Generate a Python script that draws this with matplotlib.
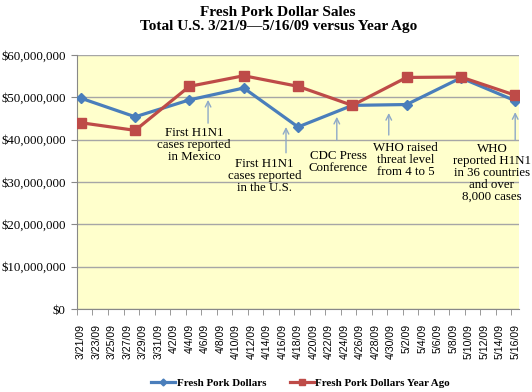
import matplotlib
matplotlib.use("Agg")
import matplotlib.pyplot as plt
from matplotlib.ticker import FuncFormatter, FixedLocator
import numpy as np

# Data
tick_labels = ["3/21/09", "3/23/09", "3/25/09", "3/27/09", "3/29/09", "3/31/09",
               "4/2/09", "4/4/09", "4/6/09", "4/8/09", "4/10/09", "4/12/09",
               "4/14/09", "4/16/09", "4/18/09", "4/20/09", "4/22/09", "4/24/09",
               "4/26/09", "4/28/09", "4/30/09", "5/2/09", "5/4/09", "5/6/09",
               "5/8/09", "5/10/09", "5/12/09", "5/14/09", "5/16/09"]
point_days = [0, 7, 14, 21, 28, 35, 42, 49, 56]  # days since 3/21/09
fresh_pork = [49.8e6, 45.4e6, 49.4e6, 52.2e6, 43.0e6, 48.1e6, 48.3e6, 54.6e6, 49.2e6]
fresh_pork_ya = [44.0e6, 42.2e6, 52.6e6, 55.1e6, 52.6e6, 48.1e6, 54.7e6, 54.8e6, 50.5e6]

annotations = [
    ("First H1N1\ncases reported\nin Mexico", 16.4, 49.4e6, 43.9e6, 14.6, 43.0e6),
    ("First H1N1\ncases reported\nin the U.S.", 26.45, 43.0e6, 36.9e6, 23.7, 35.7e6),
    ("CDC Press\nConference", 33.0, 45.4e6, 39.9e6, 33.2, 37.6e6),
    ("WHO raised\nthreat level\nfrom 4 to 5", 39.7, 46.3e6, 41.1e6, 41.9, 39.5e6),
    ("WHO\nreported H1N1\nin 36 countries\nand over\n8,000 cases", 56.0, 46.5e6, 39.9e6, 53.0, 39.2e6),
]

serif = ["Liberation Serif", "DejaVu Serif"]
sans = ["Liberation Sans", "DejaVu Sans"]

fig = plt.figure(figsize=(5.32, 3.92), dpi=100)
ax = fig.add_axes([0.1447, 0.2117, 0.831, 0.648])
ax.set_facecolor("#FFFFCC")

blue = "#4A7EBB"
red = "#BE4B48"
ax.plot(point_days, fresh_pork, color=blue, lw=2.3, marker="D", ms=5,
        label="Fresh Pork Dollars", zorder=3)
ax.plot(point_days, fresh_pork_ya, color=red, lw=2.3, marker="s", ms=6.5,
        label="Fresh Pork Dollars Year Ago", zorder=3)

ax.set_xlim(-0.5, 56.5)
ax.set_ylim(0, 60e6)
ax.set_yticks(np.arange(0, 60e6 + 1, 10e6))
ax.yaxis.set_major_formatter(FuncFormatter(lambda v, p: "${:,.0f}".format(v)))
for lbl in ax.get_yticklabels():
    lbl.set_fontfamily(serif)
    lbl.set_fontsize(9.3)
ax.grid(axis="y", color="#A6A6A6", lw=1.0)
ax.set_axisbelow(True)

label_pos = list(range(0, 57, 2))
ax.xaxis.set_major_locator(FixedLocator(label_pos))
ax.set_xticklabels(tick_labels, rotation=90, fontsize=7.6, family=sans)
ax.tick_params(axis="x", which="major", length=0, pad=11)
ax.xaxis.set_minor_locator(FixedLocator(list(np.arange(-0.5, 57, 2))))
ax.tick_params(axis="x", which="minor", length=4, color="#888888")
ax.tick_params(axis="y", length=4, color="#888888", pad=4)

for s in ["top", "right"]:
    ax.spines[s].set_visible(False)
for s in ["left", "bottom"]:
    ax.spines[s].set_color("#888888")

arrow_color = "#8EA9C8"
for text, ax_x, tip_y, tail_y, tx, ty in annotations:
    ax.annotate("", xy=(ax_x, tip_y), xytext=(ax_x, tail_y),
                arrowprops=dict(arrowstyle="->", color=arrow_color, lw=1.0,
                                shrinkA=0, shrinkB=0), zorder=2)
    ax.text(tx, ty, text, ha="center", va="top", fontsize=9.3, family=serif,
            linespacing=1.0, zorder=4)

fig.text(0.523, 0.985, "Fresh Pork Dollar Sales\nTotal U.S. 3/21/9\u20145/16/09 versus Year Ago",
         ha="center", va="top", fontsize=11, fontweight="bold", family=serif,
         linespacing=1.1)

leg = fig.legend(loc="center", bbox_to_anchor=(0.565, 0.023), ncol=2, frameon=False,
                 prop={"family": serif, "size": 7.9, "weight": "bold"},
                 handlelength=2.2, columnspacing=2.1, handletextpad=0.15,
                 markerscale=0.7)

fig.savefig("out.png", dpi=100)
